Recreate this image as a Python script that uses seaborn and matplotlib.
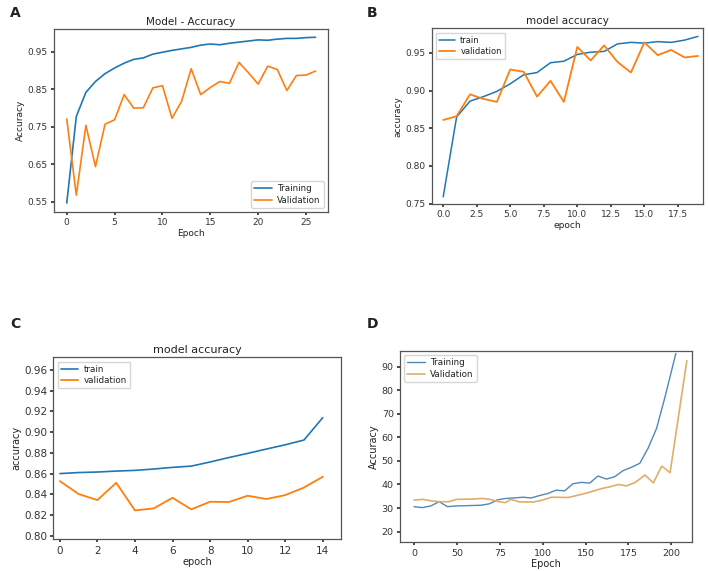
import numpy as np
import pandas as pd
import matplotlib
matplotlib.use("Agg")
import matplotlib.pyplot as plt
import seaborn as sns

# Panel A - Model - Accuracy
epochs_a = list(range(27))
train_a = [0.547, 0.778, 0.842, 0.871, 0.892, 0.907, 0.920, 0.930, 0.934, 0.944,
           0.949, 0.954, 0.958, 0.962, 0.968, 0.971, 0.969, 0.973, 0.976, 0.979,
           0.982, 0.981, 0.984, 0.986, 0.986, 0.988, 0.989]
val_a = [0.771, 0.568, 0.754, 0.644, 0.757, 0.769, 0.836, 0.800, 0.801, 0.854,
         0.860, 0.773, 0.818, 0.905, 0.836, 0.855, 0.871, 0.866, 0.922, 0.894,
         0.864, 0.912, 0.903, 0.847, 0.887, 0.888, 0.899]

# Panel B - model accuracy
epochs_b = list(range(20))
train_b = [0.759, 0.865, 0.886, 0.892, 0.899, 0.909, 0.921, 0.924, 0.937, 0.939,
           0.948, 0.951, 0.952, 0.962, 0.964, 0.963, 0.965, 0.964, 0.967, 0.972]
val_b = [0.861, 0.866, 0.895, 0.889, 0.885, 0.928, 0.925, 0.892, 0.913, 0.885,
         0.958, 0.940, 0.960, 0.938, 0.924, 0.964, 0.947, 0.954, 0.944, 0.946]

# Panel C - model accuracy
epochs_c = list(range(15))
train_c = [0.860, 0.861, 0.8615, 0.8624, 0.8631, 0.8644, 0.866, 0.8672, 0.8712,
           0.8755, 0.8795, 0.8837, 0.8878, 0.8924, 0.914]
val_c = [0.8527, 0.8402, 0.8344, 0.8511, 0.8244, 0.8264, 0.8366, 0.8254, 0.8328,
         0.8325, 0.8386, 0.8354, 0.8392, 0.8465, 0.8569]

# Panel D - Accuracy (%)
epochs_d_train = [0, 6.5, 13, 19.5, 26, 32.5, 39, 45.5, 52, 58.5, 65, 71.5, 78, 84.5,
                  91, 97.5, 104, 110.5, 117, 123.5, 130, 136.5, 143, 149.5, 156,
                  162.5, 169, 175.5, 182, 188.5, 195, 203.5]
train_d = [30.6, 30.2, 30.9, 32.7, 30.6, 30.9, 31.0, 31.1, 31.2, 31.8, 33.5, 34.1,
           34.3, 34.6, 34.3, 35.3, 36.2, 37.6, 37.3, 40.3, 40.9, 40.6, 43.6, 42.3,
           43.3, 45.9, 47.3, 49.0, 55.5, 63.8, 77.0, 95.6]
epochs_d_val = [0, 7, 14, 20, 27, 33, 46, 53, 59, 66, 71, 75, 82, 93, 100, 107,
                120, 133, 146, 152, 159, 165, 172, 179.5, 186, 192.5, 199, 212]
val_d = [33.4, 33.7, 33.0, 32.7, 32.7, 33.7, 33.8, 34.1, 33.7, 32.7, 32.3, 33.7,
         32.6, 32.6, 33.4, 34.6, 34.5, 36.2, 38.3, 39.0, 40.0, 39.4, 40.9, 44.0,
         40.7, 47.8, 45.0, 92.5]
d_tick_labels = ['0', '50', '75', '100', '150', '175', '200']

blue = '#1f77b4'
orange = '#ff7f0e'

sns.set_theme(style="ticks", rc={"axes.edgecolor": "#555555", "axes.linewidth": 0.9,
                                 "xtick.color": "#333333", "ytick.color": "#333333",
                                 "xtick.major.size": 2.5, "ytick.major.size": 2.5,
                                 "text.color": "#222222", "axes.labelcolor": "#222222"})
plt.rcParams['font.family'] = ['DejaVu Sans']

fig = plt.figure(figsize=(7.08, 5.71), dpi=100)

ax_a = fig.add_axes([0.0763, 0.6287, 0.387, 0.3205])
ax_b = fig.add_axes([0.6095, 0.6427, 0.3830, 0.3075])
ax_c = fig.add_axes([0.0753, 0.0555, 0.406, 0.3187])
ax_d = fig.add_axes([0.565, 0.0503, 0.4129, 0.335])

leg_kw = dict(handlelength=2.0, labelspacing=0.3, borderpad=0.35, handletextpad=0.6)

# A
sns.lineplot(x=epochs_a, y=train_a, ax=ax_a, color=blue, lw=1.2, label='Training')
sns.lineplot(x=epochs_a, y=val_a, ax=ax_a, color=orange, lw=1.2, label='Validation')
ax_a.set_xlim(-1.33, 27.3)
ax_a.set_ylim(0.523, 1.011)
ax_a.set_yticks([0.55, 0.65, 0.75, 0.85, 0.95])
ax_a.set_xticks([0, 5, 10, 15, 20, 25])
ax_a.set_title('Model - Accuracy', fontsize=7.5, pad=3)
ax_a.set_xlabel('Epoch', fontsize=6.5, labelpad=1)
ax_a.set_ylabel('Accuracy', fontsize=6.5, labelpad=2)
ax_a.tick_params(labelsize=6.5, pad=2)
ax_a.legend(loc='lower right', fontsize=6.3, frameon=True, fancybox=True, **leg_kw)

# B
sns.lineplot(x=epochs_b, y=train_b, ax=ax_b, color=blue, lw=1.1, label='train')
sns.lineplot(x=epochs_b, y=val_b, ax=ax_b, color=orange, lw=1.3, label='validation')
ax_b.set_xlim(-0.87, 19.35)
ax_b.set_ylim(0.7495, 0.9825)
ax_b.set_yticks([0.75, 0.80, 0.85, 0.90, 0.95])
ax_b.set_yticklabels(['0.75', '0.80', '0.85', '0.90', '0.95'])
ax_b.set_xticks([0, 2.5, 5, 7.5, 10, 12.5, 15, 17.5])
ax_b.set_xticklabels(['0.0', '2.5', '5.0', '7.5', '10.0', '12.5', '15.0', '17.5'])
ax_b.set_title('model accuracy', fontsize=7.5, pad=3)
ax_b.set_xlabel('epoch', fontsize=6.5, labelpad=1)
ax_b.set_ylabel('accuracy', fontsize=6.5, labelpad=2)
ax_b.tick_params(labelsize=6.5, pad=2)
ax_b.legend(loc='upper left', fontsize=6.0, frameon=True, fancybox=False, **leg_kw)

# C
sns.lineplot(x=epochs_c, y=train_c, ax=ax_c, color=blue, lw=1.2, label='train')
sns.lineplot(x=epochs_c, y=val_c, ax=ax_c, color=orange, lw=1.3, label='validation')
ax_c.set_xlim(-0.35, 14.96)
ax_c.set_ylim(0.7965, 0.9723)
ax_c.set_yticks([0.80, 0.82, 0.84, 0.86, 0.88, 0.90, 0.92, 0.94, 0.96])
ax_c.set_yticklabels(['0.80', '0.82', '0.84', '0.86', '0.88', '0.90', '0.92', '0.94', '0.96'])
ax_c.set_xticks([0, 2, 4, 6, 8, 10, 12, 14])
ax_c.set_title('model accuracy', fontsize=8, pad=3)
ax_c.set_xlabel('epoch', fontsize=7, labelpad=1)
ax_c.set_ylabel('accuracy', fontsize=7, labelpad=2)
ax_c.tick_params(labelsize=7.5, pad=2)
ax_c.legend(loc='upper left', fontsize=6.3, frameon=True, fancybox=False, **leg_kw)

# D
sns.lineplot(x=epochs_d_train, y=train_d, ax=ax_d, color='#4f89b8', lw=1.0, label='Training')
sns.lineplot(x=epochs_d_val, y=val_d, ax=ax_d, color='#e2ad68', lw=1.2, label='Validation')
ax_d.set_xlim(-10.9, 216.3)
ax_d.set_ylim(15.5, 96.6)
ax_d.set_yticks([20, 30, 40, 50, 60, 70, 80, 90])
ax_d.set_xticks(np.linspace(0, 200, len(d_tick_labels)))
ax_d.set_xticklabels(d_tick_labels)
ax_d.set_xlabel('Epoch', fontsize=7, labelpad=1)
ax_d.set_ylabel('Accuracy', fontsize=7, labelpad=2)
ax_d.tick_params(labelsize=6.8, pad=2)
ax_d.legend(loc='upper left', fontsize=6.3, frameon=True, fancybox=True, **leg_kw)

for ax in [ax_a, ax_b, ax_c, ax_d]:
    for s in ax.spines.values():
        s.set_visible(True)

# panel letters
fig.text(10 / 708, 1 - 13 / 571, 'A', fontsize=10, fontweight='bold', va='center', ha='left')
fig.text(367 / 708, 1 - 13 / 571, 'B', fontsize=10, fontweight='bold', va='center', ha='left')
fig.text(10 / 708, 1 - 324 / 571, 'C', fontsize=10, fontweight='bold', va='center', ha='left')
fig.text(367 / 708, 1 - 324 / 571, 'D', fontsize=10, fontweight='bold', va='center', ha='left')

fig.savefig('out.png', dpi=100)
